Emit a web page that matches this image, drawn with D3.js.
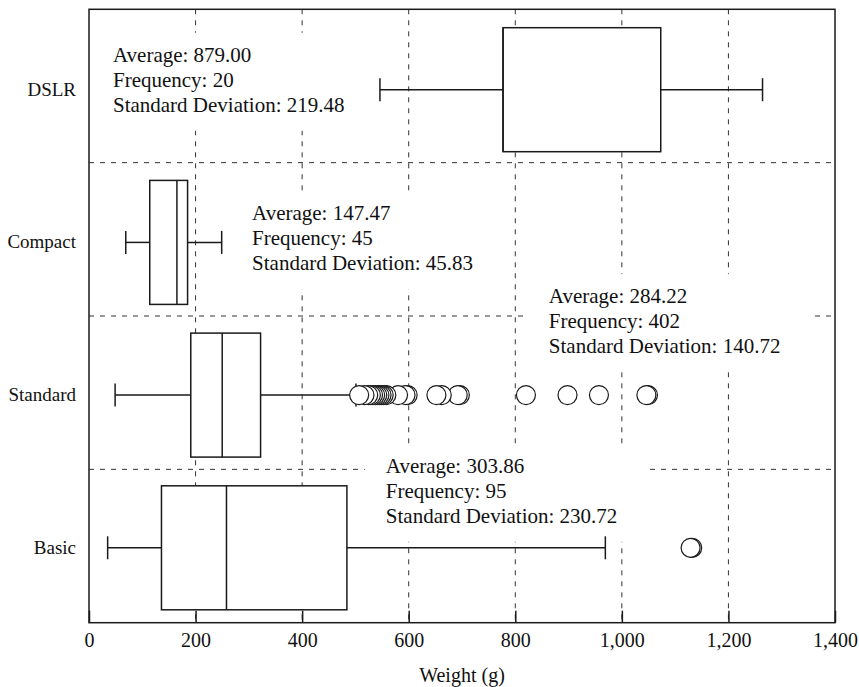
<!DOCTYPE html>
<html>
<head>
<meta charset="utf-8">
<script src="https://cdn.jsdelivr.net/npm/d3@7"></script>
<style>
  html, body { margin: 0; padding: 0; background: #fff; }
  svg { display: block; }
  text { font-family: "Liberation Serif", "Times New Roman", serif; fill: #111; }
</style>
</head>
<body>
<svg id="chart" width="859" height="687"></svg>
<script>
// Camera weight by category: five-number summaries, outliers and summary stats
const categories   = ["DSLR", "Compact", "Standard", "Basic"];
const whiskerLow   = [546, 69, 49, 35];
const q1           = [777, 114, 191, 136];
const median       = [777, 165, 250, 258];
const q3           = [1073, 185, 322, 484];
const whiskerHigh  = [1264, 249, 501, 969];
const outliersDSLR     = [];
const outliersCompact  = [];
const outliersStandard = [507, 517, 524, 529, 533, 537, 541, 545, 549, 553, 558,
                          580, 594, 598, 652, 662, 692, 696, 820, 898, 957, 1046, 1049];
const outliersBasic    = [1129, 1132];
const averages     = [879.00, 147.47, 284.22, 303.86];
const frequencies  = [20, 45, 402, 95];
const stdDevs      = [219.48, 45.83, 140.72, 230.72];
const xTicks       = [0, 200, 400, 600, 800, 1000, 1200, 1400];
const xTitle       = "Weight (g)";

const outliers = [outliersDSLR, outliersCompact, outliersStandard, outliersBasic];

const svg = d3.select("#chart");
const plot = { left: 89, right: 835, top: 9.3, bottom: 622.7 };
const ink = "#1a1a1a";

const x = d3.scaleLinear().domain([0, 1400]).range([plot.left, plot.right]);
// bands separate the categories; box centres sit on a point scale
const yBand = d3.scaleBand().domain(categories).range([plot.top, plot.bottom]);
const yMid = d3.scalePoint().domain(categories).range([89.7, 547.8]);
const boxH = 124, capH = 23, r = 9.5;

// dashed grid
const grid = svg.append("g").attr("stroke", "#333").attr("stroke-width", 1)
  .attr("stroke-dasharray", "5,6").attr("fill", "none");
grid.selectAll("line.v").data(xTicks.filter(t => t > 0 && t < 1400)).join("line")
  .attr("class", "v")
  .attr("x1", d => x(d)).attr("x2", d => x(d))
  .attr("y1", plot.top).attr("y2", plot.bottom);
grid.selectAll("line.h").data(categories.slice(1)).join("line")
  .attr("class", "h")
  .attr("x1", plot.left).attr("x2", plot.right)
  .attr("y1", d => yBand(d)).attr("y2", d => yBand(d));

// summary notes on white panels
const notePlacement = [
  { x: 45,  dy: -28 },
  { x: 306, dy: -22 },
  { x: 863, dy: -92 },
  { x: 557, dy: -75 }
];
const notes = svg.append("g");
categories.forEach((c, i) => {
  const g = notes.append("g");
  const bg = g.append("rect").attr("fill", "#fff");
  const t = g.append("text").attr("font-size", 21)
    .attr("x", x(notePlacement[i].x))
    .attr("y", yMid(c) + notePlacement[i].dy);
  const lines = [
    "Average: " + averages[i].toFixed(2),
    "Frequency: " + frequencies[i],
    "Standard Deviation: " + stdDevs[i].toFixed(2)
  ];
  lines.forEach((s, k) => {
    t.append("tspan").attr("x", x(notePlacement[i].x)).attr("dy", k === 0 ? 0 : 25).text(s);
  });
  const bb = t.node().getBBox();
  bg.attr("x", bb.x - 21).attr("y", bb.y - 10)
    .attr("width", bb.width + 52).attr("height", bb.height + 24);
});

// boxes and whiskers
const boxes = svg.append("g").attr("stroke", ink).attr("stroke-width", 1.5);
categories.forEach((c, i) => {
  const cy = yMid(c);
  const g = boxes.append("g");
  g.append("line").attr("x1", x(whiskerLow[i])).attr("x2", x(q1[i])).attr("y1", cy).attr("y2", cy);
  g.append("line").attr("x1", x(q3[i])).attr("x2", x(whiskerHigh[i])).attr("y1", cy).attr("y2", cy);
  g.append("line").attr("x1", x(whiskerLow[i])).attr("x2", x(whiskerLow[i]))
    .attr("y1", cy - capH / 2).attr("y2", cy + capH / 2);
  g.append("line").attr("x1", x(whiskerHigh[i])).attr("x2", x(whiskerHigh[i]))
    .attr("y1", cy - capH / 2).attr("y2", cy + capH / 2);
  g.append("rect").attr("fill", "#fff")
    .attr("x", x(q1[i])).attr("width", x(q3[i]) - x(q1[i]))
    .attr("y", cy - boxH / 2).attr("height", boxH);
  g.append("line").attr("x1", x(median[i])).attr("x2", x(median[i]))
    .attr("y1", cy - boxH / 2).attr("y2", cy + boxH / 2);
  g.selectAll("circle").data(outliers[i].slice().sort((a, b) => b - a)).join("circle")
    .attr("cx", d => x(d)).attr("cy", cy).attr("r", r)
    .attr("fill", "#fff").attr("stroke-width", 1.2);
});

// frame
svg.append("rect").attr("x", plot.left).attr("y", plot.top)
  .attr("width", plot.right - plot.left).attr("height", plot.bottom - plot.top)
  .attr("fill", "none").attr("stroke", ink).attr("stroke-width", 1.5);

// bottom axis with inward ticks
const xAxis = d3.axisBottom(x).tickValues(xTicks).tickFormat(d3.format(","))
  .tickSizeInner(-12).tickSizeOuter(0).tickPadding(10);
const ax = svg.append("g").attr("transform", `translate(0,${plot.bottom})`).call(xAxis);
ax.select(".domain").remove();
ax.selectAll(".tick line").attr("stroke", ink).attr("stroke-width", 1.5);
ax.selectAll(".tick text").attr("font-size", 20)
  .attr("font-family", "Liberation Serif, serif").attr("fill", "#111");

svg.append("text").attr("x", (plot.left + plot.right) / 2).attr("y", 682)
  .attr("text-anchor", "middle").attr("font-size", 20).text(xTitle);

// category labels
svg.append("g").selectAll("text").data(categories).join("text")
  .attr("x", 76).attr("y", d => yMid(d) + 6)
  .attr("text-anchor", "end").attr("font-size", 19).text(d => d);
</script>
</body>
</html>
